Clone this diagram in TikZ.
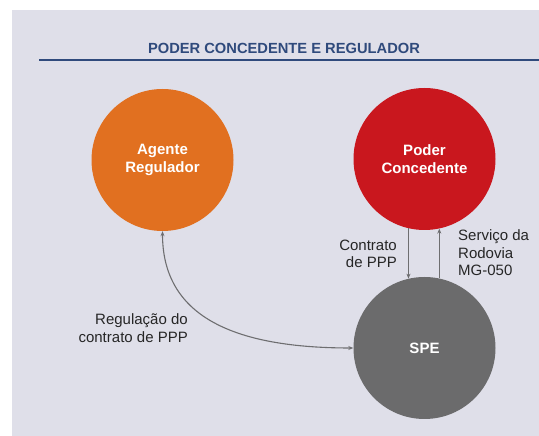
\documentclass[tikz,border=0pt]{standalone}
\usepackage{fontspec}
\setmainfont{Liberation Sans}
\usetikzlibrary{arrows.meta,positioning,calc}

\definecolor{panelbg}{HTML}{DFDFE9}
\definecolor{titleblue}{HTML}{2F4A7C}
\definecolor{regorange}{HTML}{E17020}
\definecolor{concred}{HTML}{C9171E}
\definecolor{spegray}{HTML}{6B6B6C}
\definecolor{linkgray}{HTML}{6E6E70}

\tikzset{
  party/.style={circle,minimum size=142pt,inner sep=0pt,text=white,
    font=\fontsize{15}{18}\selectfont\bfseries,align=center},
  lbl/.style={inner sep=0pt,text=black!85,font=\fontsize{15}{17.5}\selectfont},
  link/.style={draw=linkgray,line width=1.1pt,
    -{Stealth[length=5pt,width=4pt]}},
}

\begin{document}
\begin{tikzpicture}[x=1pt,y=1pt]
  \useasboundingbox (0,0) rectangle (539,436);
  % panel and heading
  \fill[panelbg] (12,0) rectangle (539,426);
  \node[text=titleblue,font=\fontsize{14.7}{17}\selectfont\bfseries] (title) at (284,388) {PODER CONCEDENTE E REGULADOR};
  \draw[titleblue,line width=1.8pt] (39,376) -- (539,376);

  % the three parties
  \node[party,fill=regorange] (agente) at (162.5,276) {Agente\\Regulador};
  \node[party,fill=concred] (poder) at (424.5,277) {Poder\\Concedente};
  \node[party,fill=spegray] (spe) at (424.5,88) {SPE};

  % relations
  \draw[link] (poder.-103) -- (spe.103);
  \draw[link] (spe.78) -- (poder.-78);
  \draw[link,{Stealth[length=5pt,width=4pt]}-{Stealth[length=5pt,width=4pt]}] (agente.south) .. controls +(0,-78) and +(-132,0) .. (spe.west);

  \node[lbl,align=right,anchor=east] (contrato) at (397,182) {Contrato\\de PPP};
  \node[lbl,align=left,anchor=west] (servico) at (458,183) {Serviço da\\Rodovia\\MG-050};
  \node[lbl,align=right,anchor=east] (regulacao) at (188,108) {Regulação do\\contrato de PPP};
\end{tikzpicture}
\end{document}
